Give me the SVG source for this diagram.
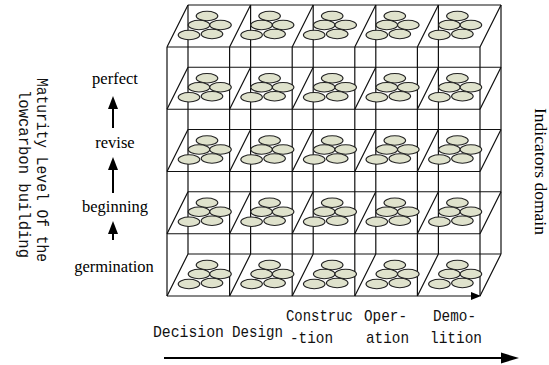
<svg xmlns="http://www.w3.org/2000/svg" xmlns:xlink="http://www.w3.org/1999/xlink" width="549" height="365" viewBox="0 0 549 365">
<style>
.g{stroke:#111;stroke-width:1.2;fill:none}
.e{fill:#dfe2cc;stroke:#222;stroke-width:1.1}
.mono{font-family:"Liberation Mono","DejaVu Sans Mono",monospace;font-size:17px;fill:#111}
.serif{font-family:"Liberation Serif","Times New Roman",serif;fill:#000}
.arr{stroke:#000;stroke-width:2;fill:none}
.head{fill:#000}
</style>
<defs>
<g id="cluster">
<ellipse class="e" cx="40" cy="-31" rx="10.8" ry="4.7"/>
<ellipse class="e" cx="32" cy="-22" rx="10.8" ry="4.7"/>
<ellipse class="e" cx="53.5" cy="-22" rx="10.8" ry="4.7"/>
<ellipse class="e" cx="22" cy="-12" rx="10.8" ry="4.7"/>
<ellipse class="e" cx="45" cy="-13" rx="10.8" ry="4.7"/>
</g>
</defs>
<rect width="549" height="365" fill="#fff"/>
<g id="grid" class="g">
<path d="M167,47H480M167,109.25H480M167,171.5H480M167,233.75H480"/>
<path d="M188,5H501M188,67.25H501M188,129.5H501M188,191.75H501M188,254H501"/>
<path d="M167,47V296M229.6,47V296M292.2,47V296M354.8,47V296M417.4,47V296M480,47V296"/>
<path d="M188,5V254M250.6,5V254M313.2,5V254M375.8,5V254M438.4,5V254M501,5V254"/>
<path d="M167,47l21,-42M229.6,47l21,-42M292.2,47l21,-42M354.8,47l21,-42M417.4,47l21,-42M480,47l21,-42"/>
<path d="M167,109.25l21,-42M229.6,109.25l21,-42M292.2,109.25l21,-42M354.8,109.25l21,-42M417.4,109.25l21,-42M480,109.25l21,-42"/>
<path d="M167,171.5l21,-42M229.6,171.5l21,-42M292.2,171.5l21,-42M354.8,171.5l21,-42M417.4,171.5l21,-42M480,171.5l21,-42"/>
<path d="M167,233.75l21,-42M229.6,233.75l21,-42M292.2,233.75l21,-42M354.8,233.75l21,-42M417.4,233.75l21,-42M480,233.75l21,-42"/>
<path d="M167,296l21,-42M229.6,296l21,-42M292.2,296l21,-42M354.8,296l21,-42M417.4,296l21,-42M480,296l21,-42"/>
</g>
<g id="cells">
<g id="r1"><use xlink:href="#cluster" x="167" y="47"/><use xlink:href="#cluster" x="229.6" y="47"/><use xlink:href="#cluster" x="292.2" y="47"/><use xlink:href="#cluster" x="354.8" y="47"/><use xlink:href="#cluster" x="417.4" y="47"/></g>
<g id="r2"><use xlink:href="#cluster" x="167" y="109.25"/><use xlink:href="#cluster" x="229.6" y="109.25"/><use xlink:href="#cluster" x="292.2" y="109.25"/><use xlink:href="#cluster" x="354.8" y="109.25"/><use xlink:href="#cluster" x="417.4" y="109.25"/></g>
<g id="r3"><use xlink:href="#cluster" x="167" y="171.5"/><use xlink:href="#cluster" x="229.6" y="171.5"/><use xlink:href="#cluster" x="292.2" y="171.5"/><use xlink:href="#cluster" x="354.8" y="171.5"/><use xlink:href="#cluster" x="417.4" y="171.5"/></g>
<g id="r4"><use xlink:href="#cluster" x="167" y="233.75"/><use xlink:href="#cluster" x="229.6" y="233.75"/><use xlink:href="#cluster" x="292.2" y="233.75"/><use xlink:href="#cluster" x="354.8" y="233.75"/><use xlink:href="#cluster" x="417.4" y="233.75"/></g>
<g id="r5"><use xlink:href="#cluster" x="167" y="296"/><use xlink:href="#cluster" x="229.6" y="296"/><use xlink:href="#cluster" x="292.2" y="296"/><use xlink:href="#cluster" x="354.8" y="296"/><use xlink:href="#cluster" x="417.4" y="296"/></g>
</g>
<g id="connectors">
<path class="g" d="M167,296H472"/>
<path class="head" d="M481,296l-10,-4v8z"/>
<path class="arr" d="M113,240V232"/>
<path class="head" d="M113,221l-5,13h10z"/>
<path class="arr" d="M113,193V168"/>
<path class="head" d="M113,157l-5,13h10z"/>
<path class="arr" d="M113,128V107"/>
<path class="head" d="M113,96l-5,13h10z"/>
<path class="arr" d="M164,358H502"/>
<path class="head" d="M519,358l-18,-5.5v11z"/>
</g>
<g id="levels" class="serif" font-size="16.5" text-anchor="middle">
<text x="115" y="84">perfect</text>
<text x="115" y="148">revise</text>
<text x="115" y="212">beginning</text>
<text x="114" y="272">germination</text>
</g>
<g id="ylabel" class="mono" font-size="18">
<text transform="translate(37,78) rotate(90)" textLength="184" lengthAdjust="spacingAndGlyphs">Maturity Level Of the</text>
<text transform="translate(19,90) rotate(90)" textLength="168" lengthAdjust="spacingAndGlyphs">lowcarbon building</text>
</g>
<g id="zlabel" class="serif" font-size="17">
<text transform="translate(535,108) rotate(90)" textLength="127" lengthAdjust="spacingAndGlyphs">Indicators domain</text>
</g>
<g id="phases" class="mono">
<text x="153" y="337" textLength="71" lengthAdjust="spacingAndGlyphs">Decision</text>
<text x="232" y="337" textLength="51" lengthAdjust="spacingAndGlyphs">Design</text>
<text x="286" y="321" textLength="67" lengthAdjust="spacingAndGlyphs">Construc</text>
<text x="290" y="343" textLength="43" lengthAdjust="spacingAndGlyphs">-tion</text>
<text x="364" y="321" textLength="43" lengthAdjust="spacingAndGlyphs">Oper-</text>
<text x="366" y="343" textLength="43" lengthAdjust="spacingAndGlyphs">ation</text>
<text x="433" y="321" textLength="43" lengthAdjust="spacingAndGlyphs">Demo-</text>
<text x="430" y="343" textLength="52" lengthAdjust="spacingAndGlyphs">lition</text>
</g>
</svg>
